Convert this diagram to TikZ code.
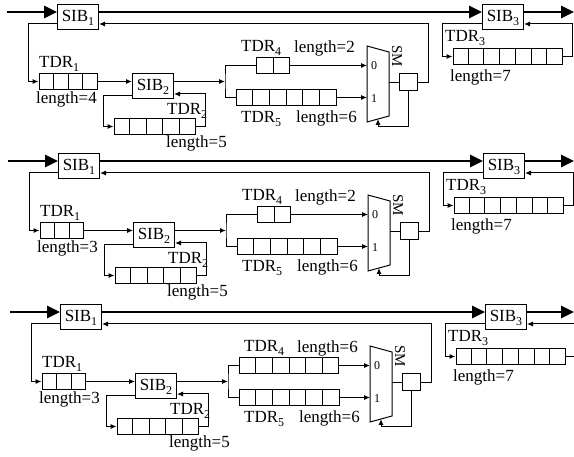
\documentclass[tikz,border=0pt]{standalone}
\usepackage{fontspec}
\setmainfont{Liberation Serif}
\usetikzlibrary{arrows.meta,calc}

\newcommand\sbs[1]{\raisebox{-4pt}{\fontsize{12}{12}\selectfont #1}}
\newcommand\regcells[2]{%
  \pgfmathtruncatemacro\ncm{#2-1}%
  \foreach \k in {1,...,\ncm}{%
    \draw[wire] ($(#1.south west)!\k/#2!(#1.south east)$) -- ($(#1.north west)!\k/#2!(#1.north east)$);}}

\tikzset{
  wire/.style={line width=1pt},
  arr/.style={wire,-{Latex[length=6pt,width=5pt]}},
  bus/.style={line width=2.6pt,-{Triangle[length=13pt,width=12pt]}},
  sib/.style={draw, line width=1pt, minimum width=41pt, minimum height=25pt, inner sep=0pt},
  reg/.style={draw, line width=1pt, inner sep=0pt, minimum height=15.5pt},
  smbox/.style={draw, line width=1pt, inner sep=0pt, minimum width=18pt, minimum height=17pt},
  txt/.style={inner sep=0pt, anchor=base west},
  small/.style={inner sep=0pt, font=\fontsize{12}{12}\selectfont}
}

% #1 prefix, #2 shift, #3 TDR1 cells, #4 TDR4 cells, #5 TDR4 centre x, #6 TDR3 return x, #7 out x
\newcommand\panel[7]{%
\begin{scope}[shift={#2}]
  % SIBs
  \node[sib] (#1sibA) at (78,17.5) {SIB\sbs{1}};
  \node[sib] (#1sibB) at (153,86.5) {SIB\sbs{2}};
  \node[sib] (#1sibC) at (503,17.5) {SIB\sbs{3}};
  % registers
  \node[reg, minimum width=#3*14.5pt] (#1tdrA) at (39+#3*7.25,81.5) {};
  \regcells{#1tdrA}{#3}
  \node[reg, minimum width=81pt] (#1tdrB) at (154.5,126.5) {};
  \regcells{#1tdrB}{5}
  \node[reg, minimum width=109pt] (#1tdrC) at (507.5,56.5) {};
  \regcells{#1tdrC}{7}
  \node[reg, minimum width=#4*16.5pt] (#1tdrD) at (#5,65.5) {};
  \regcells{#1tdrD}{#4}
  \node[reg, minimum width=100pt] (#1tdrE) at (286,97.5) {};
  \regcells{#1tdrE}{6}
  % mux
  \coordinate (#1mtl) at (367,46);
  \coordinate (#1mtr) at (389,52);
  \coordinate (#1mbr) at (389,116);
  \coordinate (#1mbl) at (367,122);
  \draw[wire, line join=miter] (#1mtl) -- (#1mtr) -- (#1mbr) -- (#1mbl) -- cycle;
  \node[small] (#1z) at (374,65.5) {0};
  \node[small] (#1o) at (374,99) {1};
  \node[inner sep=0pt, rotate=-90, font=\fontsize{15}{15}\selectfont] (#1smt) at (397,56) {SM};
  \node[smbox] (#1sm) at (408,82.5) {};
  % scan bus
  \coordinate (#1in) at (7,12);
  \coordinate (#1out) at (#7,12);
  \draw[bus] (#1in) -- (#1in -| #1sibA.west);
  \draw[bus] (#1sibA.east |- #1in) -- (#1sibC.west |- #1in);
  \draw[bus] (#1sibC.east |- #1in) -- (#1out);
  % return from SM to SIB1
  \coordinate (#1ret) at (428,24);
  \draw[arr] (#1sm.east) -| (#1ret) -- (#1ret -| #1sibA.east);
  % SIB1 to TDR1
  \coordinate (#1l1) at (28,24);
  \draw[arr] (#1l1 -| #1sibA.west) -- (#1l1) |- (#1tdrA.west);
  % TDR1 to SIB2
  \draw[arr] (#1tdrA.east) -- (#1tdrA.east -| #1sibB.west);
  % SIB2 to junction
  \coordinate (#1j) at (225,81.5);
  \draw[arr] (#1j -| #1sibB.east) -- (#1j);
  \draw[wire] (#1tdrD.west) -| (#1j) |- (#1tdrE.west);
  % SIB2 loop through TDR2
  \coordinate (#1l2) at (103,96);
  \draw[arr] (#1l2 -| #1sibB.west) -- (#1l2) |- (#1tdrB.west);
  \coordinate (#1r2) at (205,94);
  \draw[arr] (#1tdrB.east) -| (#1r2) -- (#1r2 -| #1sibB.east);
  % TDR4, TDR5 to mux
  \coordinate (#1m0) at (367,65.5);
  \coordinate (#1m1) at (367,97.5);
  \draw[arr] (#1tdrD.east) -- (#1m0);
  \draw[arr] (#1tdrE.east) -- (#1m1);
  % mux to SM, select
  \draw[wire] (#1sm.west -| #1mtr) -- (#1sm.west);
  \coordinate (#1sel) at (378,127);
  \coordinate (#1mb) at (378,119);
  \draw[arr] (#1sm.south) |- (#1sel) -- (#1mb);
  % SIB3 loop through TDR3
  \coordinate (#1l3) at (442,24);
  \draw[arr] (#1l3 -| #1sibC.west) -- (#1l3) |- (#1tdrC.west);
  \coordinate (#1r3) at (#6,24);
  \draw[arr] (#1tdrC.east) -| (#1r3) -- (#1r3 -| #1sibC.east);
  % labels
  \node[txt] (#1tA) at (39,68) {TDR\sbs{1}};
  \node[txt] (#1lA) at (36,104) {length=#3};
  \node[txt] (#1tB) at (167,115) {TDR\sbs{2}};
  \node[txt] (#1lB) at (166,148) {length=5};
  \node[txt] (#1tD) at (241,52) {TDR\sbs{4}};
  \node[txt] (#1lD) at (294,53) {length=#4};
  \node[txt] (#1tE) at (241,123) {TDR\sbs{5}};
  \node[txt] (#1lE) at (296,123) {length=6};
  \node[txt] (#1tC) at (445,42) {TDR\sbs{3}};
  \node[txt] (#1lC) at (450,82) {length=7};
\end{scope}}

\begin{document}
\begin{tikzpicture}[x=1pt, y=-1pt, font=\fontsize{17}{20}\selectfont]
  \useasboundingbox (0,0) rectangle (574,457);
  \panel{a}{(0,0)}{4}{2}{273}{572}{574}
  \panel{b}{(1,149)}{3}{2}{273}{572}{573}
  \panel{c}{(3,300)}{3}{6}{286}{585}{571}
\end{tikzpicture}
\end{document}
